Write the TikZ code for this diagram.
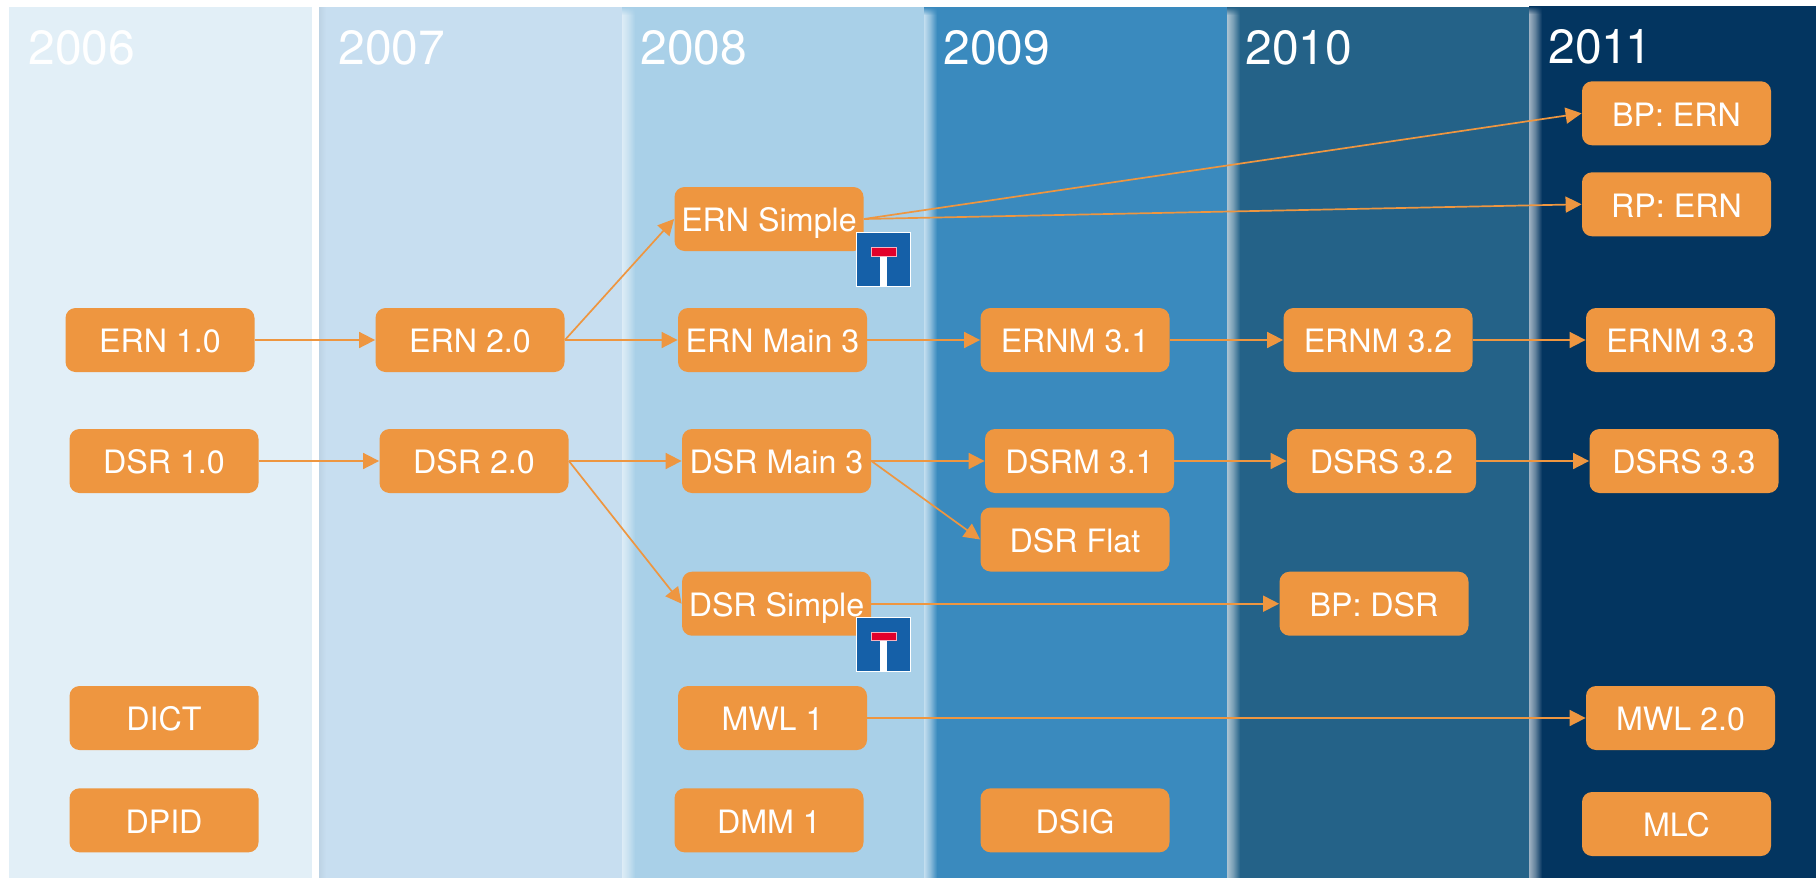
\documentclass[tikz,border=0pt]{standalone}
\usepackage{fontspec}
\setmainfont{TeX Gyre Heros}
\usetikzlibrary{arrows.meta,fadings}
\definecolor{bandA}{HTML}{E2EFF7}
\definecolor{bandB}{HTML}{C7DEF0}
\definecolor{bandC}{HTML}{A9D0E8}
\definecolor{bandD}{HTML}{3A8ABE}
\definecolor{bandE}{HTML}{246288}
\definecolor{bandF}{HTML}{033560}
\definecolor{boxc}{HTML}{EE9640}
\definecolor{signblue}{HTML}{1560A8}
\definecolor{signred}{HTML}{E2002B}
\tikzset{
  x=0.5pt,y=-0.5pt,
  box/.style={draw=none,fill=boxc,rounded corners=5pt,minimum width=94.5pt,minimum height=32pt,
    inner sep=0pt,text=white,font=\fontsize{16.1}{16}\selectfont,text height=12.7pt,text depth=0pt,align=center},
  year/.style={anchor=base west,inner sep=0pt,text=white,font=\fontsize{24}{24}\selectfont},
  link/.style={draw=boxc,line width=0.85pt,-{Triangle[length=8pt,width=8pt]}},
  signbox/.style={fill=signblue,draw=white,line width=0.5pt,minimum width=27pt,minimum height=27pt,inner sep=0pt},
  signbar/.style={fill=signred,draw=white!70!signred,line width=0.3pt,minimum width=12.5pt,minimum height=4.4pt,inner sep=0pt},
  signstem/.style={fill=white,minimum width=3.6pt,minimum height=15pt,inner sep=0pt},
  deadend/.pic={
    \node[signbox] (-plate) at (0,0) {};
    \node[signstem] (-stem) at (0,11.7) {};
    \node[signbar] (-bar) at (0,-8) {};
  }
}
% #1 x of the band's left edge, #2 top, #3 light colour, #4 base colour
\newcommand{\edgeglow}[4]{%
  \shade[left color=#3,right color=#3!62!#4] (#1,#2) rectangle ({#1+6},878);
  \shade[left color=#3!62!#4,right color=#4] ({#1+6},#2) rectangle ({#1+13},878);
  \fill[#4,path fading=south] (#1,#2) rectangle ({#1+13},{#2+8});
}
\begin{document}
\begin{tikzpicture}
\useasboundingbox (0,0) rectangle (1816,878);
\fill[white] (0,0) rectangle (1816,878);
% bands
\fill[bandA] (9,7) rectangle (312,878);
\fill[bandB] (319,7) rectangle (622,878);
\fill[bandC] (622,7) rectangle (924,878);
\fill[bandD] (924,7) rectangle (1227,878);
\fill[bandE] (1227,7) rectangle (1529,878);
\fill[bandF] (1529,6) rectangle (1816,878);
% soft left edges
\shade[left color=bandB!95!black,right color=bandB] (319,7) rectangle (326,878);
\edgeglow{622}{7}{white!60!bandC}{bandC}
\edgeglow{924}{7}{white!30!bandC}{bandD}
\edgeglow{1227}{7}{white!62!bandE}{bandE}
\edgeglow{1529}{6}{white!62!bandF}{bandF}
% years
\node[year] (y2006) at (28,64) {2006};
\node[year] (y2007) at (338,64) {2007};
\node[year] (y2008) at (640,64) {2008};
\node[year] (y2009) at (943,64) {2009};
\node[year] (y2010) at (1245,64) {2010};
\node[year] (y2011) at (1548,63.5) {201\kern-1.6pt 1};
% boxes
\node[box] (ern1) at (160,340) {ERN 1.0};
\node[box] (ern2) at (470,340) {ERN 2.0};
\node[box] (ernm3) at (772.5,340) {ERN Main 3};
\node[box] (ernm31) at (1075,340) {ERNM 3.1};
\node[box] (ernm32) at (1378,340) {ERNM 3.2};
\node[box] (ernm33) at (1680.5,340) {ERNM 3.3};
\node[box] (dsr1) at (164,461) {DSR 1.0};
\node[box] (dsr2) at (474,461) {DSR 2.0};
\node[box] (dsrm3) at (776.5,461) {DSR Main 3};
\node[box] (dsrm31) at (1079.5,461) {DSRM 3.1};
\node[box] (dsrs32) at (1381.5,461) {DSRS 3.2};
\node[box] (dsrs33) at (1684,461) {DSRS 3.3};
\node[box] (dsrflat) at (1075,539.5) {DSR Flat};
\node[box] (ernsimple) at (769,219) {ERN Simple};
\node[box] (dsrsimple) at (776.5,603.7) {DSR Simple};
\node[box] (bpdsr) at (1374,603.7) {BP: DSR};
\node[box] (bpern) at (1676.5,113.3) {BP: ERN};
\node[box] (rpern) at (1676.5,204.3) {RP: ERN};
\node[box] (dict) at (164,718) {DICT};
\node[box] (mwl1) at (772.5,718) {MWL 1};
\node[box] (mwl2) at (1680.5,718) {MWL 2.0};
\node[box] (dpid) at (164,820.3) {DPID};
\node[box] (dmm1) at (769,820.3) {DMM 1};
\node[box] (dsig) at (1075,820.3) {DSIG};
\node[box] (mlc) at (1676.5,824) {MLC};
% connectors
\draw[link] (ern1.east) -- (ern2.west);
\draw[link] (ern2.east) -- (ernm3.west);
\draw[link] (ern2.east) -- (ernsimple.west);
\draw[link] (ernm3.east) -- (ernm31.west);
\draw[link] (ernm31.east) -- (ernm32.west);
\draw[link] (ernm32.east) -- (ernm33.west);
\draw[link] (ernsimple.east) -- (bpern.west);
\draw[link] (ernsimple.east) -- (rpern.west);
\draw[link] (dsr1.east) -- (dsr2.west);
\draw[link] (dsr2.east) -- (dsrm3.west);
\draw[link] (dsr2.east) -- (dsrsimple.west);
\draw[link] (dsrm3.east) -- (dsrm31.west);
\draw[link] (dsrm3.east) -- (dsrflat.west);
\draw[link] (dsrm31.east) -- (dsrs32.west);
\draw[link] (dsrs32.east) -- (dsrs33.west);
\draw[link] (dsrsimple.east) -- (bpdsr.west);
\draw[link] (mwl1.east) -- (mwl2.west);
% dead-end signs
\pic (signa) at (883.7,259.5) {deadend};
\pic (signb) at (883.5,644.2) {deadend};
\end{tikzpicture}
\end{document}
